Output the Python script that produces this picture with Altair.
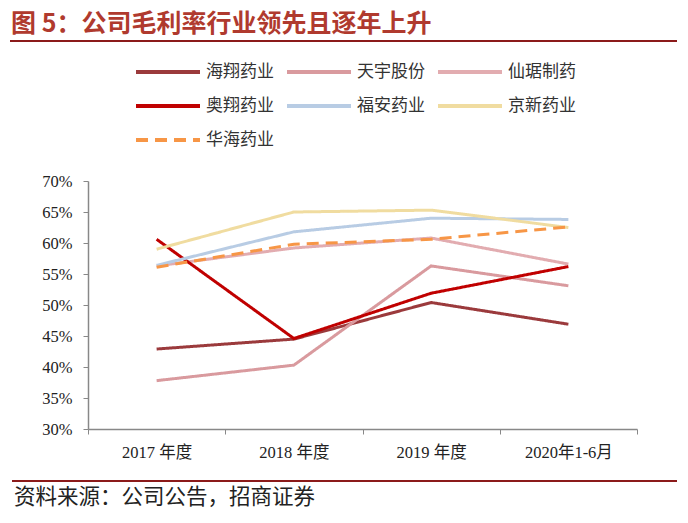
import altair as alt
import pandas as pd

years = ["2017 年度", "2018 年度", "2019 年度", "2020年1-6月"]
series_names = ["海翔药业", "天宇股份", "仙琚制药", "奥翔药业", "福安药业", "京新药业", "华海药业"]
haixiang = [42.9, 44.5, 50.4, 46.9]
tianyu = [37.8, 40.3, 56.3, 53.1]
xianju = [56.3, 59.2, 60.8, 56.6]
aoxiang = [60.6, 44.6, 51.9, 56.2]
fuan = [56.4, 61.8, 64.0, 63.8]
jingxin = [59.0, 65.0, 65.3, 62.5]
huahai = [56.1, 59.8, 60.6, 62.6]
y_ticks = [30, 35, 40, 45, 50, 55, 60, 65, 70]

colors = ["#9B3A3C", "#D99A9E", "#E2ACB0", "#C00000", "#B8CCE4", "#F0DCA0", "#F79646"]
dashes = [[1, 0], [1, 0], [1, 0], [1, 0], [1, 0], [1, 0], [12, 7]]

# order of the legend's domain so that its grid reads row by row like the reference
legend_order = ["海翔药业", "奥翔药业", "京新药业", "天宇股份", "福安药业", "华海药业", "仙琚制药"]

title_text = "图 5：公司毛利率行业领先且逐年上升"
source_text = "资料来源：公司公告，招商证券"

rows = []
for name, vals in zip(series_names, [haixiang, tianyu, xianju, aoxiang, fuan, jingxin, huahai]):
    for yr, v in zip(years, vals):
        rows.append({"公司": name, "年份": yr, "毛利率": v})
df = pd.DataFrame(rows)

color_of = dict(zip(series_names, colors))
dash_of = dict(zip(series_names, dashes))
color_range = [color_of[n] for n in legend_order]
dash_range = [dash_of[n] for n in legend_order]

serif = "Liberation Serif, Noto Sans CJK SC"
cjk = "Noto Sans CJK SC"

legend = alt.Legend(
    title=None, orient="none", legendX=46, legendY=-118, columns=3,
    symbolType="stroke", symbolSize=4096, symbolStrokeWidth=4,
    clipHeight=18, rowPadding=16, columnPadding=11, labelOffset=4,
    labelFont=cjk, labelFontSize=17, labelColor="#333333", padding=0,
)

lines = alt.Chart(df).mark_line(strokeWidth=3).encode(
    x=alt.X("年份:N", sort=years, bandPosition=0.5,
            scale=alt.Scale(type="band", paddingInner=0, paddingOuter=0),
            axis=alt.Axis(title=None, labelAngle=0, tickBand="extent", labelFont=serif,
                          labelFontSize=16.5, labelColor="#222222", labelPadding=10,
                          domainColor="#888888", tickColor="#888888", tickSize=5,
                          domainWidth=1.5, grid=False)),
    y=alt.Y("毛利率:Q", scale=alt.Scale(domain=[30, 70], nice=False, zero=False),
            axis=alt.Axis(title=None, values=y_ticks, labelExpr="datum.value + '%'",
                          labelFont=serif, labelFontSize=16.5, labelColor="#222222",
                          labelPadding=11, domainColor="#888888", tickColor="#888888",
                          tickSize=5, domainWidth=1.5, grid=False)),
    color=alt.Color("公司:N", sort=legend_order,
                    scale=alt.Scale(domain=legend_order, range=color_range), legend=legend),
    strokeDash=alt.StrokeDash("公司:N", sort=legend_order,
                              scale=alt.Scale(domain=legend_order, range=dash_range), legend=legend),
)

title = alt.Chart(pd.DataFrame({"t": [title_text]})).mark_text(
    align="left", baseline="middle", font=cjk, fontSize=25, fontWeight="bold", color="#B03A2E",
    lineHeight=26
).encode(x=alt.value(-77), y=alt.value(-157), text="t:N")

top_rule = alt.Chart(pd.DataFrame({"a": [0]})).mark_rule(color="#8B1A1A", strokeWidth=2).encode(
    x=alt.value(-78), x2=alt.value(589), y=alt.value(-140))

bottom_rule = alt.Chart(pd.DataFrame({"a": [0]})).mark_rule(color="#8B1A1A", strokeWidth=2).encode(
    x=alt.value(-76), x2=alt.value(589), y=alt.value(300))

source = alt.Chart(pd.DataFrame({"t": [source_text]})).mark_text(
    align="left", baseline="middle", font=cjk, fontSize=21.5, color="#222222"
).encode(x=alt.value(-74), y=alt.value(317), text="t:N")

chart = alt.layer(lines, title, top_rule, bottom_rule, source).properties(
    width=549, height=248,
    autosize=alt.AutoSizeParams(type="none"),
    padding={"left": 80, "top": 173, "right": 43, "bottom": 86},
).configure_view(stroke=None)

chart.save("out.html", embed_options={"renderer": "svg", "actions": False})
